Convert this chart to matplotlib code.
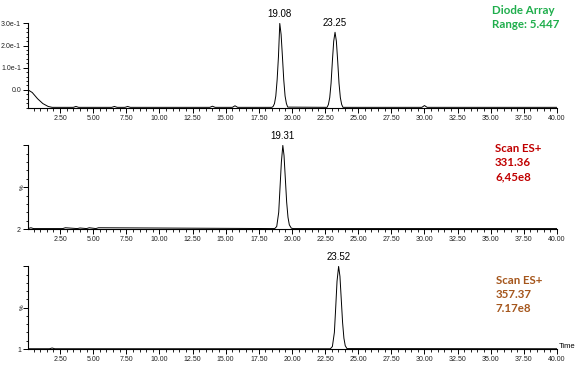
import matplotlib
matplotlib.use("Agg")
import matplotlib.pyplot as plt
from matplotlib.ticker import MultipleLocator, FixedLocator, FormatStrFormatter

# ---------------- data ----------------
# Diode array trace (absorbance units)
da_time = [0.08, 0.4, 0.8, 1.2, 1.6, 1.9, 3.5, 3.7, 3.9, 6.4, 6.6, 6.8, 7.4, 7.6, 7.8,
           13.8, 14.0, 14.2, 15.5, 15.7, 15.9,
           18.48, 18.58, 18.68, 18.78, 18.88, 18.98, 19.08, 19.18, 19.28, 19.38, 19.48, 19.58, 19.68,
           22.65, 22.75, 22.85, 22.95, 23.05, 23.15, 23.25, 23.35, 23.45, 23.55, 23.65, 23.75, 23.85,
           29.8, 30.0, 30.2, 40.0]
da_value = [0.0, -0.012, -0.04, -0.062, -0.075, -0.079, -0.079, -0.075, -0.079, -0.079, -0.075, -0.079,
            -0.079, -0.075, -0.079, -0.079, -0.074, -0.079, -0.079, -0.072, -0.079,
            -0.079, -0.075, -0.062, -0.028, 0.045, 0.15, 0.30, 0.25, 0.15, 0.045, -0.028, -0.062, -0.078,
            -0.079, -0.066, -0.035, 0.03, 0.13, 0.22, 0.26, 0.22, 0.13, 0.03, -0.035, -0.066, -0.079,
            -0.079, -0.071, -0.079, -0.079]

# Scan ES+ 331.36 trace (%)
ms1_time = [0.08, 0.3, 0.5, 2.7, 2.9, 3.8, 4.0, 4.5, 4.7, 5.2, 5.4,
            18.7, 18.85, 19.0, 19.1, 19.2, 19.31, 19.4, 19.5, 19.6, 19.7, 19.8, 19.95, 20.1, 40.0]
ms1_value = [0.5, 1.5, 0.5, 0.5, 1.5, 0.5, 1.2, 0.5, 1.5, 0.5, 1.5,
             0.5, 3, 20, 50, 80, 100, 88, 60, 32, 14, 5, 1, 0.5, 0.5]

# Scan ES+ 357.37 trace (%)
ms2_time = [0.08, 1.7, 1.9, 2.1,
            22.9, 23.05, 23.2, 23.3, 23.4, 23.52, 23.62, 23.72, 23.82, 23.92, 24.02, 24.15, 40.0]
ms2_value = [0.3, 0.3, 1.2, 0.3,
             0.3, 3, 20, 50, 82, 100, 88, 60, 32, 13, 4, 0.5, 0.3]

peak_labels = [["19.08", "23.25"], ["19.31"], ["23.52"]]
peak_times = [[19.08, 23.25], [19.31], [23.52]]
peak_heights = [[0.30, 0.26], [100], [100]]

x_ticks = [2.5, 5.0, 7.5, 10.0, 12.5, 15.0, 17.5, 20.0, 22.5, 25.0, 27.5, 30.0, 32.5, 35.0, 37.5, 40.0]

da_yticks = [0.0, 0.1, 0.2, 0.3]
da_ylabels = ["0.0", "1.0e-1", "2.0e-1", "3.0e-1"]

side_texts = [["Diode Array", "Range: 5.447"],
              ["Scan ES+", "331.36", "6,45e8"],
              ["Scan ES+", "357.37", "7.17e8"]]
side_colors = ["#1fae4c", "#c00000", "#a5561c"]

# ---------------- figure ----------------
W, H = 581, 377
fig = plt.figure(figsize=(W / 100, H / 100), dpi=100)

def px_axes(left, top, right, bottom):
    return fig.add_axes([left / W, 1 - bottom / H, (right - left) / W, (bottom - top) / H])

ax1 = px_axes(28, 23, 557, 108)
ax2 = px_axes(28, 145, 557, 229)
ax3 = px_axes(28, 266, 557, 349)
axes = [ax1, ax2, ax3]

ax1.plot(da_time, da_value, color="black", lw=0.7)
ax2.plot(ms1_time, ms1_value, color="black", lw=0.7)
ax3.plot(ms2_time, ms2_value, color="black", lw=0.7)

ax1.set_ylim(-0.082, 0.302)
ax2.set_ylim(0, 100.5)
ax3.set_ylim(0, 100.5)

for ax in axes:
    ax.set_xlim(0.08, 40.0)
    for s in ["top", "right"]:
        ax.spines[s].set_visible(False)
    for s in ["left", "bottom"]:
        ax.spines[s].set_linewidth(0.8)
    ax.xaxis.set_major_locator(FixedLocator(x_ticks))
    ax.xaxis.set_minor_locator(MultipleLocator(0.5))
    ax.xaxis.set_major_formatter(FormatStrFormatter("%.2f"))
    ax.tick_params(axis="both", which="major", length=3.5, width=0.7, direction="out",
                   pad=1.5, labelsize=5, colors="black", labelcolor="#222222")
    ax.tick_params(axis="both", which="minor", length=1.8, width=0.6, direction="out")
    for lab in ax.get_xticklabels() + ax.get_yticklabels():
        lab.set_fontfamily("Liberation Sans")

ax1.yaxis.set_major_locator(FixedLocator(da_yticks))
ax1.set_yticklabels(da_ylabels, fontfamily="Liberation Sans", fontsize=5)
ax1.yaxis.set_minor_locator(MultipleLocator(0.02))

for ax, bottom_label in [(ax2, "2"), (ax3, "1")]:
    ax.yaxis.set_major_locator(FixedLocator([0, 50, 100]))
    ax.set_yticklabels([bottom_label, "", ""], fontfamily="Liberation Sans", fontsize=5)
    ax.yaxis.set_minor_locator(MultipleLocator(10))
    ax.text(-0.011, 0.5, "%", transform=ax.transAxes, rotation=90, fontsize=4.5,
            family="Liberation Sans", ha="center", va="center")

# peak labels
for ax, labs, ts, hs in zip(axes, peak_labels, peak_times, peak_heights):
    for lab, t, h in zip(labs, ts, hs):
        ax.annotate(lab, (t, h), xytext=(0, 3), textcoords="offset points",
                    ha="center", va="bottom", fontsize=7, family="Liberation Sans",
                    annotation_clip=False)

# side texts
side_pos = [(492, [10, 25]), (495, [149, 163, 177]), (496, [281, 294, 308])]
for (x, ys), lines, c in zip(side_pos, side_texts, side_colors):
    for y, line in zip(ys, lines):
        fig.text(x / W, 1 - y / H, line, color=c, fontsize=8.3, fontweight="bold",
                 family="Lato", ha="left", va="center")

fig.text(559 / W, 1 - 346 / H, "Time", fontsize=5.5, family="Liberation Sans",
         ha="left", va="center")

fig.savefig("out.png", dpi=100)
